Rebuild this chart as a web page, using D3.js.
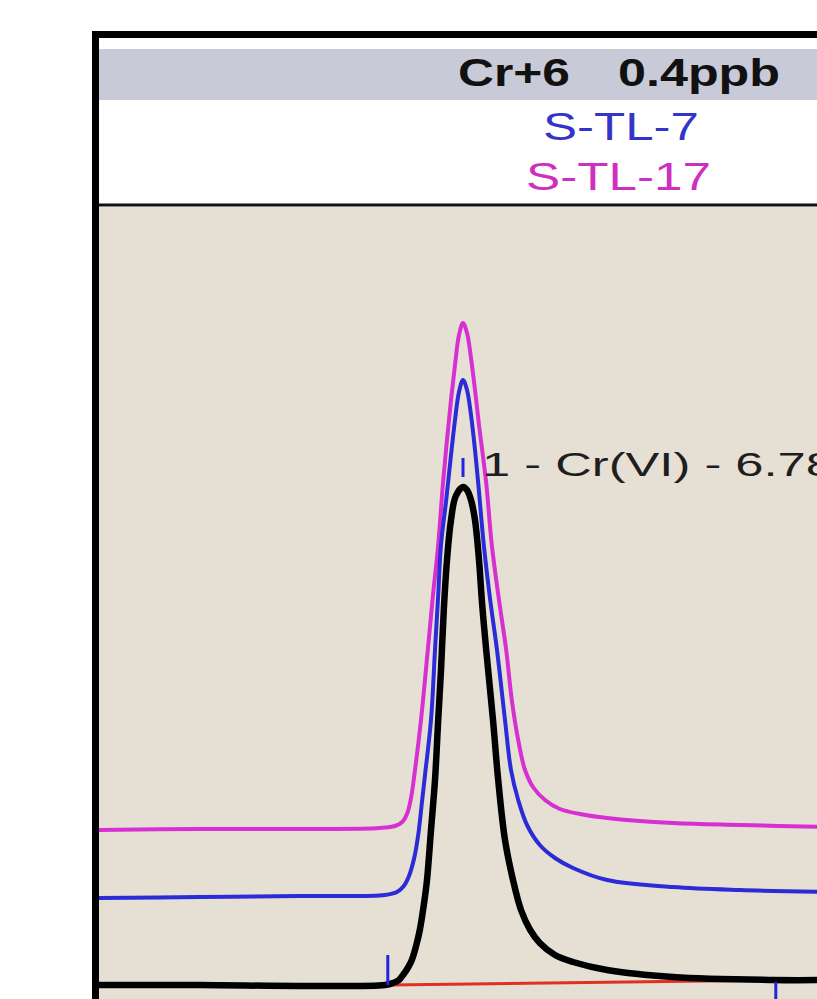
<!DOCTYPE html>
<html>
<head>
<meta charset="utf-8">
<script src="https://cdn.jsdelivr.net/npm/d3@7"></script>
<style>
  html, body { margin: 0; padding: 0; background: #fff; overflow: hidden; }
  svg { display: block; font-family: "Liberation Sans", Arial, sans-serif; }
</style>
</head>
<body>
<svg id="chart" width="817" height="999"></svg>
<script>
// Chromatogram traces: [retention time (min), signal]
const blackTrace = [
  [5.870, 0.0], [6.122, 0.0], [6.372, -0.2], [6.585, 0.0], [6.605, 0.4], [6.620, 1.0],
  [6.630, 2.0], [6.642, 3.4], [6.652, 5.0], [6.662, 7.6], [6.672, 11.0], [6.682, 16.0],
  [6.690, 21.0], [6.700, 31.0], [6.710, 41.0], [6.718, 53.0], [6.725, 63.0], [6.732, 75.0],
  [6.740, 85.0], [6.750, 93.0], [6.762, 97.8], [6.780, 99.6], [6.790, 99.0], [6.800, 97.0],
  [6.810, 93.0], [6.820, 85.0], [6.828, 76.0], [6.838, 67.0], [6.855, 53.0], [6.868, 41.0],
  [6.885, 29.0], [6.905, 21.0], [6.925, 15.0], [6.948, 11.0], [6.972, 8.4], [7.010, 6.0],
  [7.055, 4.6], [7.140, 3.0], [7.305, 1.6], [7.555, 1.0], [7.700, 1.0]
];
const blueTrace = [
  [5.870, 17.4], [6.122, 17.6], [6.372, 17.8], [6.585, 18.0], [6.615, 18.6], [6.632, 19.8],
  [6.645, 21.8], [6.658, 25.4], [6.668, 30.0], [6.678, 37.0], [6.685, 42.0], [6.700, 53.0],
  [6.710, 67.0], [6.718, 78.0], [6.725, 88.0], [6.738, 97.0], [6.750, 106.0], [6.760, 113.0],
  [6.770, 118.6], [6.780, 121.0], [6.790, 119.0], [6.800, 114.0], [6.810, 107.0], [6.818, 100.4],
  [6.832, 88.0], [6.848, 77.0], [6.865, 67.0], [6.885, 53.0], [6.900, 43.0], [6.918, 37.0],
  [6.940, 32.0], [6.972, 28.0], [7.010, 25.4], [7.055, 23.4], [7.140, 21.0], [7.305, 19.6],
  [7.472, 19.0], [7.700, 18.6]
];
const magentaTrace = [
  [5.870, 31.0], [6.122, 31.2], [6.372, 31.2], [6.572, 31.4], [6.610, 31.8], [6.628, 32.6],
  [6.640, 34.2], [6.650, 37.4], [6.660, 43.0], [6.675, 53.0], [6.692, 67.0], [6.705, 78.0],
  [6.718, 88.0], [6.730, 100.4], [6.740, 109.0], [6.750, 117.0], [6.760, 124.0], [6.770, 130.0],
  [6.780, 132.4], [6.790, 130.4], [6.800, 125.4], [6.810, 119.0], [6.820, 112.0], [6.838, 100.4],
  [6.852, 88.0], [6.870, 77.0], [6.888, 67.0], [6.902, 57.0], [6.918, 49.0], [6.935, 43.0],
  [6.955, 39.6], [6.985, 37.0], [7.022, 35.2], [7.072, 34.2], [7.140, 33.4], [7.305, 32.4],
  [7.472, 32.0], [7.700, 31.6]
];

// integration baseline and peak markers
const baselineSegment = [[6.598, 0.0], [7.560, 1.0]];
const peakMarks = [
  { t: 6.592, v0: 0.0, v1: 6.0 },
  { t: 7.562, v0: 0.6, v1: -4.0 },
  { t: 6.780, v0: 101.6, v1: 105.4 }
];

const titleParts = ["Cr+6", "0.4ppb"];
const legendNames = ["S-TL-7", "S-TL-17"];
const peakLabel = "1 - Cr(VI) - 6.78";

const svg = d3.select("#chart");

// plot area (continues past the right and bottom edges of the picture)
const plotLeft = 99, plotTop = 207;

const x = d3.scaleLinear().domain([5.87, 7.665]).range([99, 817]);
const y = d3.scaleLinear().domain([-5, 140]).range([1010, 285]);

// header: white box with grey title band
svg.append("rect")
  .attr("x", plotLeft).attr("y", 37)
  .attr("width", 800).attr("height", plotTop - 37)
  .attr("fill", "#ffffff");

svg.append("rect")
  .attr("x", plotLeft).attr("y", 49)
  .attr("width", 800).attr("height", 51)
  .attr("fill", "#c9cad7");

svg.append("rect")
  .attr("x", plotLeft).attr("y", plotTop)
  .attr("width", 800).attr("height", 900)
  .attr("fill", "#e6e0d4");

// title
svg.append("text")
  .attr("x", 458).attr("y", 86)
  .attr("font-size", 38).attr("font-weight", "bold")
  .attr("textLength", 112).attr("lengthAdjust", "spacingAndGlyphs")
  .attr("fill", "#111")
  .text(titleParts[0]);

svg.append("text")
  .attr("x", 618).attr("y", 86)
  .attr("font-size", 38).attr("font-weight", "bold")
  .attr("textLength", 162).attr("lengthAdjust", "spacingAndGlyphs")
  .attr("fill", "#111")
  .text(titleParts[1]);

// legend names
const legendStyle = [
  { x: 543, y: 140, w: 156, color: "#3434c8" },
  { x: 526, y: 190, w: 185, color: "#cf2fbf" }
];
legendNames.forEach((name, i) => {
  svg.append("text")
    .attr("x", legendStyle[i].x).attr("y", legendStyle[i].y)
    .attr("font-size", 38)
    .attr("textLength", legendStyle[i].w).attr("lengthAdjust", "spacingAndGlyphs")
    .attr("fill", legendStyle[i].color)
    .text(name);
});

// separator between header and plot
svg.append("line")
  .attr("x1", plotLeft).attr("x2", 817)
  .attr("y1", 205).attr("y2", 205)
  .attr("stroke", "#111").attr("stroke-width", 3);

// clip the traces to the plot area
svg.append("clipPath").attr("id", "plot-clip")
  .append("rect")
  .attr("x", plotLeft).attr("y", plotTop)
  .attr("width", 800).attr("height", 900);

const plot = svg.append("g").attr("clip-path", "url(#plot-clip)");

const line = d3.line()
  .x(d => x(d[0]))
  .y(d => y(d[1]))
  .curve(d3.curveCatmullRom.alpha(0.5));

plot.append("path")
  .datum(magentaTrace)
  .attr("d", line)
  .attr("fill", "none")
  .attr("stroke", "#d62fd2")
  .attr("stroke-width", 4);

plot.append("path")
  .datum(blueTrace)
  .attr("d", line)
  .attr("fill", "none")
  .attr("stroke", "#2b2bd8")
  .attr("stroke-width", 4);

// red integration baseline
plot.append("path")
  .datum(baselineSegment)
  .attr("d", d3.line().x(d => x(d[0])).y(d => y(d[1])))
  .attr("fill", "none")
  .attr("stroke", "#e0301e")
  .attr("stroke-width", 3);

plot.append("path")
  .datum(blackTrace)
  .attr("d", line)
  .attr("fill", "none")
  .attr("stroke", "#000")
  .attr("stroke-width", 6.5);

// peak start / apex / end ticks
plot.selectAll(".mark")
  .data(peakMarks)
  .join("line")
  .attr("class", "mark")
  .attr("x1", d => x(d.t)).attr("x2", d => x(d.t))
  .attr("y1", d => y(d.v0)).attr("y2", d => y(d.v1))
  .attr("stroke", "#2323dc")
  .attr("stroke-width", 3);

// peak label
plot.append("text")
  .attr("x", 482).attr("y", 476)
  .attr("font-size", 34)
  .attr("textLength", 352).attr("lengthAdjust", "spacingAndGlyphs")
  .attr("fill", "#1e1e1e")
  .text(peakLabel);

// outer frame (left and top edges visible)
svg.append("line")
  .attr("x1", 95.5).attr("x2", 95.5)
  .attr("y1", 31).attr("y2", 999)
  .attr("stroke", "#000").attr("stroke-width", 7);

svg.append("line")
  .attr("x1", 92).attr("x2", 817)
  .attr("y1", 34.5).attr("y2", 34.5)
  .attr("stroke", "#000").attr("stroke-width", 7);
</script>
</body>
</html>
